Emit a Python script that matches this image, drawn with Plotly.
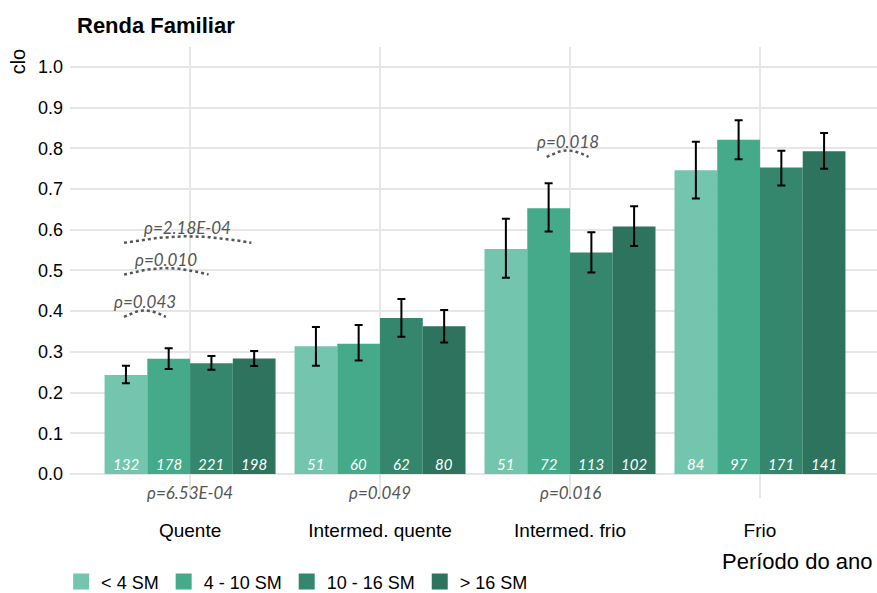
import numpy as np
import plotly.graph_objects as go

categories = ["Quente", "Intermed. quente", "Intermed. frio", "Frio"]
groups = ["< 4 SM", "4 - 10 SM", "10 - 16 SM", "> 16 SM"]
colors = ["#73c6ad", "#44aa8a", "#34876c", "#2e735e"]

means = [
    [0.243, 0.314, 0.553, 0.746],
    [0.283, 0.320, 0.653, 0.821],
    [0.272, 0.383, 0.544, 0.753],
    [0.284, 0.363, 0.608, 0.793],
]
upper = [
    [0.266, 0.361, 0.627, 0.816],
    [0.309, 0.366, 0.714, 0.869],
    [0.290, 0.430, 0.594, 0.794],
    [0.302, 0.403, 0.658, 0.838],
]
lower = [
    [0.223, 0.266, 0.482, 0.677],
    [0.258, 0.279, 0.596, 0.773],
    [0.256, 0.337, 0.495, 0.709],
    [0.265, 0.323, 0.560, 0.750],
]
counts = [
    [132, 51, 51, 84],
    [178, 60, 72, 97],
    [221, 62, 113, 171],
    [198, 80, 102, 141],
]
group_p = ["ρ=6.53E-04", "ρ=0.049", "ρ=0.016", ""]
# pairwise comparisons: (category index, group a, group b, label, arc level)
pairs = [
    (0, 0, 1, "ρ=0.043", 0.386),
    (0, 0, 2, "ρ=0.010", 0.490),
    (0, 0, 3, "ρ=2.18E-04", 0.568),
    (2, 1, 2, "ρ=0.018", 0.779),
]

ng = len(groups)
group_width = 0.9
bw = group_width / ng


def bar_x(cat, g):
    return cat - group_width / 2 + bw * (g + 0.5)


x = np.arange(len(categories))
fig = go.Figure()
for g in range(ng):
    m = np.array(means[g])
    fig.add_trace(go.Bar(
        x=x, y=m, name=groups[g], showlegend=False,
        marker=dict(color=colors[g], line=dict(width=0)),
        error_y=dict(type="data", symmetric=False,
                     array=np.array(upper[g]) - m,
                     arrayminus=m - np.array(lower[g]),
                     color="black", thickness=2, width=4),
    ))
# legend entries with larger square symbols
for g in range(ng):
    fig.add_trace(go.Scatter(
        x=[None], y=[None], mode="markers", name=groups[g],
        marker=dict(symbol="square", size=16, color=colors[g], line=dict(width=0))))

annotations = []
# counts inside bars
for g in range(ng):
    for c in range(len(categories)):
        annotations.append(dict(
            x=bar_x(c, g), y=0, xref="x", yref="y", yanchor="bottom",
            text=str(counts[g][c]), showarrow=False, yshift=-1,
            font=dict(family="Lato", size=15, color="white", style="italic")))
# group p-values below
for c, t in enumerate(group_p):
    if t:
        annotations.append(dict(
            x=c, y=-0.046, xref="x", yref="y", text=t, showarrow=False,
            font=dict(family="Lato", size=17, color="#555555", style="italic")))
# pairwise arcs
for c, a, b, t, lvl in pairs:
    x0 = bar_x(c, a) - 0.01
    x1 = bar_x(c, b) - 0.015
    tt = np.linspace(0, 1, 40)
    xs = x0 + (x1 - x0) * tt
    ys = lvl + 0.016 * np.sin(np.pi * tt)
    fig.add_trace(go.Scatter(x=xs, y=ys, mode="lines", showlegend=False,
                             hoverinfo="skip",
                             line=dict(color="#555555", width=2.5, dash="dot")))
    annotations.append(dict(
        x=(x0 + x1) / 2, y=lvl + 0.038, xref="x", yref="y", text=t, showarrow=False,
        font=dict(family="Lato", size=17, color="#555555", style="italic")))

# y-axis title at top
annotations.append(dict(
    x=-0.064, y=0.969, xref="paper", yref="paper", text="clo", showarrow=False,
    textangle=-90, xanchor="center", yanchor="middle",
    font=dict(family="Liberation Sans", size=20, color="black")))
annotations.append(dict(
    x=0.996, y=-0.14, xref="paper", yref="paper", xanchor="right", yanchor="middle",
    text="Período do ano", showarrow=False,
    font=dict(family="Liberation Sans", size=22, color="black")))

W, H = 877, 593
fig.update_layout(
    width=W, height=H,
    margin=dict(l=70, r=0, t=47, b=95, autoexpand=False),
    plot_bgcolor="white", paper_bgcolor="white",
    barmode="group", bargap=0.1, bargroupgap=0,
    title=dict(text="<b>Renda Familiar</b>", x=77 / W, xanchor="left",
               y=1 - 25 / H, yanchor="middle",
               font=dict(family="Liberation Sans", size=22, color="black")),
    xaxis=dict(range=[-0.632, 3.616], tickvals=list(x), ticktext=categories,
               showgrid=True, gridcolor="#e6e6e6", gridwidth=1.5,
               zeroline=False, ticks="", ticklabelstandoff=19,
               tickfont=dict(family="Liberation Sans", size=19, color="black")),
    yaxis=dict(range=[-0.059, 1.049],
               tickvals=[i / 10 for i in range(11)],
               ticktext=[f"{i / 10:.1f}" for i in range(11)],
               showgrid=True, gridcolor="#e6e6e6", gridwidth=1.5,
               zeroline=False, ticks="", ticklabelstandoff=6,
               tickfont=dict(family="Liberation Sans", size=18, color="black")),
    legend=dict(orientation="h", x=-0.011, xanchor="left", y=-0.186,
                yanchor="middle", font=dict(family="Liberation Sans", size=18,
                                            color="black"),
                itemsizing="trace"),
    annotations=annotations,
)

fig.write_html("out.html", config={"displayModeBar": False},
               post_script="document.body.style.margin='0';"
                           "document.body.style.overflow='hidden';")
